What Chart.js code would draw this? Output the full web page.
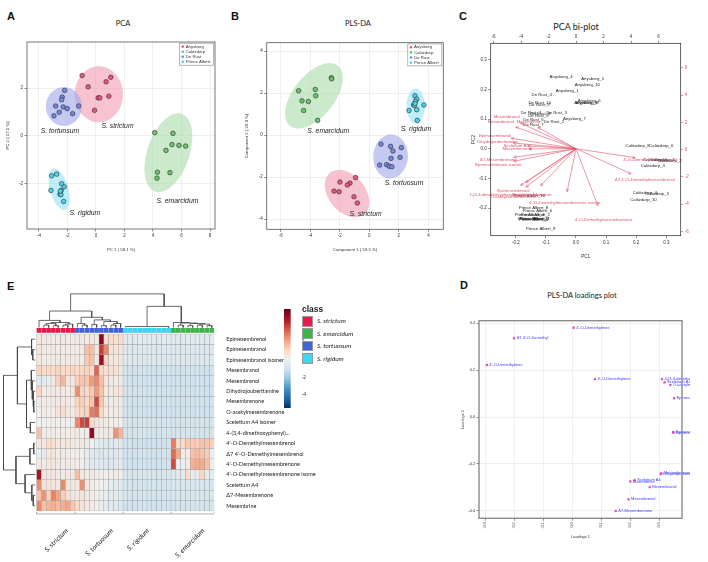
<!DOCTYPE html>
<html>
<head>
<meta charset="utf-8">
<title>Sceletium alkaloid profiles</title>
<script src="https://cdn.jsdelivr.net/npm/chart.js@4.4.1/dist/chart.umd.min.js"></script>
<style>
  html, body { margin: 0; padding: 0; background: #fff; }
  #page { position: relative; width: 708px; height: 562px; overflow: hidden; font-family: "Liberation Sans", Arial, sans-serif; color: #222; }
  #page canvas { position: absolute; }
  .tag { position: absolute; font-weight: bold; font-size: 11px; line-height: 1; color: #111; }
  .ttl { position: absolute; transform: translate(-50%, -50%); white-space: nowrap; line-height: 1; font-family: Lato, "Liberation Sans", sans-serif; color: #222; }
  .key { position: absolute; box-sizing: border-box; width: 11px; height: 10.5px; border: 1px solid #9a9a9a; }
  .keytxt { position: absolute; font-size: 6.5px; font-style: italic; line-height: 1; transform: translateY(-50%); white-space: nowrap; font-family: Lato, "Liberation Sans", sans-serif; }
</style>
</head>
<body>
<div id="page">
  <div class="tag" style="left:7px;top:11px">A</div>
  <div class="tag" style="left:231px;top:11px">B</div>
  <div class="tag" style="left:459px;top:11px">C</div>
  <div class="tag" style="left:460px;top:280px">D</div>
  <div class="tag" style="left:7px;top:281px">E</div>
  <div class="ttl" style="left:123px;top:24px;font-size:7.5px">PCA</div>
  <div class="ttl" style="left:358px;top:24px;font-size:7.5px">PLS-DA</div>
  <div class="ttl" style="left:576px;top:26px;font-size:9px">PCA bi-plot</div>
  <div class="ttl" style="left:582px;top:296px;font-size:7.5px">PLS-DA loadings plot</div>
  <canvas id="cA"></canvas>
  <canvas id="cB"></canvas>
  <canvas id="cC"></canvas>
  <canvas id="cD"></canvas>
  <canvas id="cE"></canvas>
  <canvas id="cG"></canvas>
  <div id="classKey"></div>
</div>
<script>
/* ---------- sites (A, B) ---------- */
const sites = ['Anysberg', 'Calitzdorp', 'De Rust', 'Prince Albert'];
const siteColors = ['#e9557f', '#6cc46c', '#7487e0', '#4ed2ec'];
const siteShade = ['rgba(243,158,180,0.62)', 'rgba(168,220,168,0.6)', 'rgba(160,166,234,0.6)', 'rgba(150,228,247,0.62)'];
const species = ['S. tortuosum', 'S. strictum', 'S. emarcidum', 'S. rigidum'];

// A: PCA scores [PC1, PC2]
const pcaAnysberg = [[-0.97, 2.52], [-0.55, 2.05], [0.71, 2.26], [1.04, 2.45], [0.15, 1.59], [0.27, 1.59], [0.90, 1.66], [-0.10, 1.07]];
const pcaCalitzdorp = [[4.12, 0.14], [5.40, 0.11], [5.33, -0.36], [5.82, -0.39], [6.29, -0.42], [4.91, -0.60], [4.31, -1.51], [4.28, -1.76], [5.19, -1.53]];
const pcaDeRust = [[-2.20, 1.90], [-2.37, 1.62], [-2.41, 1.51], [-2.83, 1.25], [-2.30, 1.21], [-2.02, 1.14], [-1.22, 1.25], [-1.64, 0.93], [-2.58, 0.99], [-2.95, 0.84]];
const pcaPrinceAlbert = [[-3.11, -1.66], [-2.76, -1.59], [-2.41, -1.99], [-2.23, -2.12], [-3.16, -2.27], [-2.44, -2.27], [-2.53, -2.43], [-2.46, -2.45], [-2.27, -2.73], [-2.50, -2.30]];
// confidence ellipses: centre, first half-axis, second half-axis
const pcaEllipses = [[0.20, 1.74, 1.69, 0, 0, 1.17], [5.08, -0.70, 0.93, 1.62, 1.40, -0.28], [-2.25, 1.23, 1.26, 0, 0, 0.81], [-2.58, -2.22, -0.42, 0.86, 0.61, 0.11]];
const pcaSpeciesAt = [[-2.53, 0.21], [1.51, 0.42], [5.71, -2.72], [-0.78, -3.23]];
const pcaXTicks = [-4, -2, 0, 2, 4, 6, 8];
const pcaYTicks = [-2, 0, 2];

// B: PLS-DA scores [comp 1, comp 2]
const plsAnysberg = [[-0.93, -2.03], [-1.99, -2.24], [-1.31, -2.29], [-1.49, -2.38], [-2.39, -2.67], [-2.05, -2.70], [-1.04, -2.94], [-0.81, -3.24]];
const plsCalitzdorp = [[-2.57, 2.73], [-2.55, 2.68], [-4.79, 2.11], [-3.66, 2.17], [-3.63, 1.87], [-4.56, 1.63], [-4.13, 1.60], [-4.45, 1.17], [-3.50, 0.70]];
const plsDeRust = [[0.79, -0.43], [1.44, -0.54], [1.60, -0.76], [2.17, -0.60], [2.08, -1.06], [1.47, -1.11], [0.70, -1.43], [1.17, -1.41], [1.35, -1.49], [1.53, -1.51]];
const plsPrinceAlbert = [[3.09, 1.87], [3.21, 1.71], [3.12, 1.60], [3.00, 1.44], [3.05, 1.41], [2.69, 1.17], [3.21, 1.21], [3.70, 1.43], [3.25, 0.70], [3.10, 1.50]];
const plsEllipses = [[-1.51, -2.79, 1.17, -0.98, 0.95, 0.56], [-3.75, 1.87, 1.63, 1.43, 1.08, -0.62], [1.44, -1.02, 1.17, 0.12, -0.10, 1.04], [3.14, 1.38, 0.62, 0, 0, 0.83]];
const plsSpeciesAt = [[2.35, -2.27], [-0.25, -3.78], [-2.78, 0.19], [3.16, 0.27]];
const plsXTicks = [-6, -4, -2, 0, 2, 4];
const plsYTicks = [-4, -2, 0, 2, 4];

/* ---------- C: biplot ---------- */
const biplotSamples = ['Anysberg_4', 'Anysberg_5', 'Anysberg_10', 'Anysberg_1', 'Anysberg_6', 'Anysberg_8', 'Anysberg_3', 'Anysberg_7',
  'De Rust_4', 'De Rust_10', 'De Rust_9', 'De Rust_1', 'De Rust_3', 'De Rust_5', 'De Rust_8', 'De Rust_6', 'De Rust_2', 'De Rust_7',
  'Calitzdorp_8', 'Calitzdorp_6', 'Calitzdorp_1', 'Calitzdorp_2', 'Calitzdorp_7', 'Calitzdorp_3', 'Calitzdorp_4', 'Calitzdorp_5', 'Calitzdorp_10',
  'Prince Albert_8', 'Prince Albert_6', 'Prince Albert_4', 'Prince Albert_1', 'Prince Albert_2', 'Prince Albert_3', 'Prince Albert_7', 'Prince Albert_5', 'Prince Albert_9', 'Prince Albert_10'];
const biplotScore1 = [-1.09, 1.21, 0.82, -0.65, 0.95, 0.80, 0.70, -0.12,
  -2.50, -2.64, -2.67, -3.27, -1.41, -2.74, -2.60, -3.10, -1.60, -3.10,
  4.48, 6.20, 5.75, 6.80, 6.30, 5.58, 5.00, 5.90, 4.90,
  -3.10, -2.81, -3.40, -2.95, -3.15, -3.05, -3.00, -3.10, -2.57, -3.40];
const biplotScore2 = [5.31, 5.16, 4.77, 4.35, 3.55, 3.45, 3.42, 2.27,
  4.01, 3.42, 3.27, 2.71, 2.71, 2.49, 2.60, 2.18, 2.05, 1.83,
  0.29, 0.29, -0.76, -0.81, -0.78, -1.20, -3.13, -3.22, -3.69,
  -4.23, -4.47, -4.79, -4.79, -5.06, -5.10, -5.06, -5.12, -5.77, -3.40];
const biplotVars = ['Mesembranol', 'Mesembrenol', 'Mesembrine', 'Epimesembranol', 'Dihydrojoubertiamine', 'Sceletium A4', 'Mesembrenone',
  'Δ7-Mesembrenone', 'Epimesembranol isomer', 'Epimesembrenol', '4-(3,4-dimethoxyphenyl)cyclohexanone', 'O-acetylmesembrenone',
  'Sceletium A4 isomer', "4'-O-Demethylmesembrenone isomer", "4'-O-Demethylmesembrenone", "4'-O-Demethylmesembrenol", "Δ7 4'-O-Demethylmesembrenol"];
const biplotPC1 = [-0.230, -0.250, -0.158, -0.269, -0.261, -0.199, -0.195, -0.258, -0.258, -0.208, -0.230, -0.208, -0.147, -0.037, 0.091, 0.246, 0.229];
const biplotPC2 = [0.108, 0.091, 0.090, 0.044, 0.024, 0.011, -0.001, -0.036, -0.053, -0.142, -0.154, -0.162, -0.156, -0.181, -0.240, -0.038, -0.106];
const biplotLoadTicks = [-0.2, -0.1, 0, 0.1, 0.2, 0.3];
const biplotScoreTicks = [-6, -4, -2, 0, 2, 4, 6];

/* ---------- D: PLS-DA loadings ---------- */
const loadNames = ["4'-O-Demethylmesembrenol", "Δ7 4'-O-Demethylmesembrenol", "4'-O-Demethylmesembrenone", "4'-O-Demethylmesembrenone isomer",
  '4-(3,4-dimethoxyphenyl)cyclohexanone', 'Sceletium A4 isomer', 'O-acetylmesembrenone', 'Epimesembrenol', 'Epimesembranol', 'Epimesembranol isomer',
  'Dihydrojoubertiamine', 'Mesembrenone', 'Sceletium A4', 'Mesembrine', 'Mesembranol', 'Mesembrenol', 'Δ7-Mesembrenone'];
const loadings1 = [0.005, -0.200, -0.294, 0.078, 0.309, 0.318, 0.338, 0.351, 0.347, 0.349, 0.305, 0.307, 0.215, 0.200, 0.267, 0.194, 0.150];
const loadings2 = [0.381, 0.336, 0.222, 0.162, 0.162, 0.148, 0.137, 0.080, -0.065, -0.066, -0.243, -0.240, -0.269, -0.275, -0.299, -0.351, -0.401];
const loadXTicks = [-0.3, -0.2, -0.1, 0, 0.1, 0.2, 0.3];
const loadYTicks = [-0.4, -0.2, 0, 0.2, 0.4];

/* ---------- E: heatmap ---------- */
const groups = ['S. strictum', 'S. tortuosum', 'S. rigidum', 'S. emarcidum'];
const groupSizes = [8, 10, 10, 9];
const groupColors = ['#e8194b', '#4262d8', '#3fd6f3', '#3bb44a'];
const legendOrder = [0, 3, 1, 2];
const groupLabelAt = [6.3, 15.7, 23.2, 34.7];
const heatRows = ['Epimesembrenol', 'Epimesembranol', 'Epimesembranol isomer', 'Mesembranol', 'Mesembrenol', 'Dihydrojoubertiamine',
  'Mesembrenone', 'O-acetylmesembrenone', 'Sceletium A4 isomer', '4-(3,4-dimethoxyphenyl)...', "4'-O-Demethylmesembrenol",
  "Δ7 4'-O-Demethylmesembrenol", "4'-O-Demethylmesembrenone", "4'-O-Demethylmesembrenone isome", 'Sceletium A4', 'Δ7-Mesembrenone', 'Mesembrine'];
// columns: 8 strictum | 10 tortuosum | 10 rigidum | 9 emarcidum
const heatValues = [
  [0.4, 0.3, 0.3, 0.2, 0.2, 0.3, 0.2, 0.2, 0.2, 0.3, 0.2, 0.4, 0.3, 5.2, 0.8, 0.9, 0.8, 0.9, -0.5, -0.5, -0.5, -0.5, -0.5, -0.5, -0.5, -0.5, -0.5, -0.5, -0.5, -0.5, -0.5, -0.5, -0.5, -0.5, -0.5, -0.5, -0.5],
  [0.5, 0.3, 0.2, 0.3, 0.2, 0.3, 0.2, 0.3, 0.2, 0.3, 1.6, 1.6, 0.4, 3.8, 2.6, 0.6, 0.5, 0.6, -0.6, -0.6, -0.6, -0.6, -0.6, -0.6, -0.6, -0.6, -0.6, -0.6, -0.6, -0.6, -0.6, -0.6, -0.6, -0.6, -0.6, -0.6, -0.6],
  [0.4, 0.2, 0.3, 0.2, 0.3, 0.2, 0.3, 0.3, 0.3, 0.2, 1.4, 1.6, 0.3, 4.8, 1.2, 0.4, 0.4, 0.5, -0.6, -0.6, -0.6, -0.6, -0.6, -0.6, -0.6, -0.6, -0.6, -0.6, -0.6, -0.6, -0.6, -0.6, -0.6, -0.6, -0.6, -0.6, -0.6],
  [1.2, 1.0, 1.1, 0.9, 1.2, 1.0, 1.0, 1.2, 1.0, 1.1, 1.2, 1.0, 3.2, 1.0, 0.8, 0.7, 0.6, 0.5, -1.0, -1.0, -1.0, -1.0, -1.0, -1.0, -1.0, -1.0, -1.0, -1.0, -1.0, -1.0, -1.0, -1.0, -1.0, -1.0, -1.0, -1.0, -1.0],
  [-0.6, -0.5, -0.3, 0.3, 1.3, 1.8, 0.6, 0.3, 1.3, 1.5, 1.5, 2.3, 2.6, 1.6, 0.5, 0.3, 0.2, 0.3, -1.0, -1.0, -1.0, -1.0, -1.0, -1.0, -1.0, -1.0, -1.0, -1.0, -1.0, -1.0, -1.0, -1.0, -1.0, -1.0, -1.0, -1.0, -1.0],
  [1.2, 0.2, 0.3, 0.4, 0.3, 0.3, 0.2, 0.5, 2.5, 1.2, 1.0, 1.4, 2.3, 1.5, 0.4, 0.3, 0.5, 0.6, -1.0, -1.0, -1.0, -1.0, -1.0, -1.0, -1.0, -1.0, -1.0, -1.0, -1.0, -1.0, -1.0, -1.0, -1.0, -1.0, -1.0, -1.0, -1.0],
  [0.3, 0.2, 0.2, 0.3, 0.3, 0.4, 0.3, 0.2, 1.2, 1.3, 1.0, 1.5, 3.6, 1.4, 0.3, 0.2, 0.3, 0.3, -1.0, -1.0, -1.0, -1.0, -1.0, -1.0, -1.0, -1.0, -1.0, -1.0, -1.0, -1.0, -1.0, -1.0, -1.0, -1.0, -1.0, -1.0, -1.0],
  [0.1, 0.2, 0.2, 0.1, 0.6, 0.9, 0.4, 0.3, 0.9, 1.1, 1.2, 2.8, 3.0, 1.0, 0.3, 0.2, 0.2, 0.3, -1.0, -1.0, -1.0, -1.0, -1.0, -1.0, -1.0, -1.0, -1.0, -1.0, -1.0, -1.0, -1.0, -1.0, -1.0, -1.0, -1.0, -1.0, -1.0],
  [0.0, 0.1, 0.0, 0.1, 0.0, 0.1, 0.0, 0.2, 2.6, 3.6, 3.8, 0.8, 0.5, 0.3, 0.2, 0.1, 0.2, 0.1, -0.9, -0.9, -0.9, -0.9, -0.9, -0.9, -0.9, -0.9, -0.9, -0.9, -0.9, -0.9, -0.9, -0.9, -0.9, -0.9, -0.9, -0.9, -0.9],
  [1.6, 0.2, 0.1, 0.2, 0.1, 0.2, 0.1, 0.2, 0.3, 0.1, 0.2, 5.0, 0.3, 0.2, 0.3, 0.4, 2.4, 1.8, -0.9, -0.9, -0.9, -0.9, -0.9, -0.9, -0.9, -0.9, -0.9, -0.9, -0.9, -0.9, -0.9, -0.9, -0.9, -0.9, -0.9, -0.9, -0.9],
  [0.3, 0.4, 0.9, 0.8, 0.4, 0.3, 0.6, 0.3, 0.2, 0.3, 0.3, 0.0, -0.3, -0.5, -0.6, -0.6, -0.5, -0.5, -1.0, -1.0, -1.1, -1.1, -1.1, -1.0, -1.0, -1.0, -1.1, -1.0, 2.8, 0.9, 1.0, 1.4, 1.4, 1.3, 1.5, 1.5, 1.3],
  [-0.3, -0.5, 0.4, 0.6, 0.2, 0.3, 0.2, 0.1, 0.1, 0.0, -0.3, -0.5, -0.6, -0.7, -0.6, -0.6, -0.6, -0.5, -1.0, -1.0, -1.0, -1.0, -1.0, -1.0, -1.0, -1.0, -1.0, -1.0, 3.1, 2.0, 0.2, 0.2, 1.6, 1.7, 1.5, 1.3, -0.2],
  [0.3, 0.2, 0.4, 0.5, 0.3, 0.2, 0.3, 0.2, 0.1, 0.0, -0.3, -0.5, -0.6, -0.6, -0.7, -0.6, -0.5, -0.5, -1.0, -1.0, -1.0, -1.0, -1.0, -1.0, -1.0, -1.0, -1.0, -1.0, 3.6, 0.0, -0.1, 0.2, 1.9, 2.0, 2.0, 1.6, 0.2],
  [4.6, 0.4, 0.3, 0.5, 0.3, 0.2, 0.4, 0.3, 1.6, 0.3, 0.2, 0.3, 0.2, 0.1, 0.0, 0.1, 0.2, 0.1, -0.8, -0.8, -0.8, -0.8, -0.8, -0.8, -0.8, -0.8, -0.8, -0.8, -0.6, -0.5, -0.4, 1.0, -0.3, -0.3, 1.1, -0.3, -0.5],
  [2.5, 0.5, 0.6, 0.4, 0.5, 2.6, 0.5, 0.3, 0.3, 2.5, 0.4, 0.2, 0.1, 0.0, -0.2, -0.3, -0.4, -0.4, -0.9, -0.9, -0.9, -0.9, -0.9, -0.9, -0.9, -0.9, -0.9, -0.9, -0.8, -0.8, -0.8, -0.8, -0.8, -0.8, -0.8, -0.8, -0.8],
  [1.5, 2.4, 1.3, 2.7, 2.1, 1.3, 0.8, 0.4, 0.3, 0.5, 0.3, 0.2, 0.1, -0.1, -0.3, -0.4, -0.4, -0.5, -0.9, -0.9, -0.9, -0.9, -0.9, -0.9, -0.9, -0.9, -0.9, -0.9, -0.8, -0.8, -0.8, -0.8, -0.8, -0.8, -0.8, -0.8, -0.8],
  [2.6, 1.6, 1.8, 1.9, 1.7, 1.9, 2.1, 1.5, 1.0, 0.6, 0.3, 0.2, 0.1, -0.2, -0.4, -0.5, -0.5, -0.6, -1.0, -1.0, -1.0, -1.0, -1.0, -1.0, -1.0, -1.0, -1.0, -1.0, -0.9, -0.9, -0.9, -0.9, -0.9, -0.9, -0.9, -0.9, -0.9]
];
// dendrogram links: [left pos, right pos, height, left child height, right child height]
const colLeaf = 17.62;
const colTree = [
  [1.5, 2.5, 17.85, colLeaf, colLeaf], [3.5, 4.5, 17.8, colLeaf, colLeaf], [5.5, 6.5, 17.85, colLeaf, colLeaf],
  [2.0, 4.0, 18.0, 17.85, 17.8], [6.0, 7.5, 17.95, 17.85, colLeaf], [3.0, 6.75, 18.1, 18.0, 17.95], [0.5, 4.875, 18.3, colLeaf, 18.1],
  [9.5, 10.5, 17.85, colLeaf, colLeaf], [8.5, 10, 18.0, colLeaf, 17.85], [11.5, 12.5, 17.9, colLeaf, colLeaf], [13.5, 14.5, 17.8, colLeaf, colLeaf],
  [15.5, 16.5, 17.85, colLeaf, colLeaf], [16, 17.5, 18.0, 17.85, colLeaf], [14, 16.75, 18.2, 17.8, 18.0], [12, 15.375, 18.35, 17.9, 18.2],
  [9.25, 13.69, 18.6, 18.0, 18.35], [2.69, 11.47, 19.2, 18.3, 18.6],
  [18.5, 27.5, 17.72, colLeaf, colLeaf],
  [29.5, 30.5, 17.85, colLeaf, colLeaf], [31.5, 32.5, 17.8, colLeaf, colLeaf], [33.5, 34.5, 17.85, colLeaf, colLeaf], [35.5, 36.5, 17.8, colLeaf, colLeaf],
  [34, 36, 17.95, 17.85, 17.8], [32, 35, 18.0, 17.8, 17.95], [30, 33.5, 18.05, 17.85, 18.0], [28.5, 31.75, 18.1, colLeaf, 18.05],
  [23, 30.13, 19.65, 17.72, 18.1], [7.08, 26.56, 20.85, 19.2, 19.65]
];
const rowLeaf = -0.3;
const rowTree = [
  [1, 2, -0.8, rowLeaf, rowLeaf], [0, 1.5, -1.05, rowLeaf, -0.8], [6, 7, -0.6, rowLeaf, rowLeaf], [5, 6.5, -0.75, rowLeaf, -0.6],
  [4, 5.75, -0.9, rowLeaf, -0.75], [3, 4.875, -1.1, rowLeaf, -0.9], [8, 9, -1.3, rowLeaf, rowLeaf], [3.94, 8.5, -2.1, -1.1, -1.3],
  [0.75, 6.22, -4.0, -1.05, -2.1], [10, 11, -0.6, rowLeaf, rowLeaf], [10.5, 12, -1.4, -0.6, rowLeaf], [15, 16, -0.7, rowLeaf, rowLeaf],
  [14, 15.5, -1.0, rowLeaf, -0.7], [13, 14.75, -2.4, rowLeaf, -1.0], [11.25, 13.875, -4.3, -1.4, -2.4], [3.48, 12.56, -6.9, -4.0, -4.3]
];
const scaleMin = -5.47, scaleMax = 5.7;
const scaleTicks = [-4, -2, 0, 2, 4];
const rdbuStops = [[-5.5, [5, 48, 97]], [-4.4, [33, 102, 172]], [-3.3, [67, 147, 195]], [-2.2, [146, 197, 222]], [-1.1, [206, 226, 238]],
  [0, [240, 240, 240]], [1.1, [252, 216, 196]], [2.2, [242, 160, 128]], [3.3, [214, 96, 77]], [4.4, [178, 24, 43]], [5.7, [103, 0, 31]]];

/* ---------- helpers ---------- */
Chart.defaults.font.family = '"Liberation Sans", Arial, sans-serif';
Chart.defaults.color = '#333';

function rdbu(v) {
  if (v <= rdbuStops[0][0]) return 'rgb(' + rdbuStops[0][1].join(',') + ')';
  for (let k = 1; k < rdbuStops.length; k++) {
    const [v1, c1] = rdbuStops[k], [v0, c0] = rdbuStops[k - 1];
    if (v <= v1) {
      const t = (v - v0) / (v1 - v0);
      return 'rgb(' + c0.map((c, j) => Math.round(c + t * (c1[j] - c))).join(',') + ')';
    }
  }
  return 'rgb(' + rdbuStops[rdbuStops.length - 1][1].join(',') + ')';
}

function place(id, left, top, w, h) {
  const c = document.getElementById(id);
  c.width = w; c.height = h;
  c.style.left = left + 'px'; c.style.top = top + 'px';
  c.style.width = w + 'px'; c.style.height = h + 'px';
  return c.getContext('2d');
}

function linAxis(position, min, max, tickValues, o) {
  o = o || {};
  const horizontal = position === 'top' || position === 'bottom';
  return {
    type: 'linear', position: position, min: min, max: max,
    afterBuildTicks: s => { s.ticks = tickValues.map(v => ({ value: v })); },
    afterFit: s => { if (horizontal) s.height = o.size; else s.width = o.size; },
    grid: {
      drawOnChartArea: !!o.grid, color: o.grid || '#ddd', lineWidth: 0.6,
      drawTicks: true, tickLength: o.tickLength || 2.5, tickColor: o.tickColor || '#444', tickWidth: 0.6
    },
    border: { display: false },
    ticks: {
      autoSkip: false, padding: 1.5, color: o.color || '#333',
      font: { size: o.font || 4.5 },
      minRotation: o.rot || 0, maxRotation: o.rot || 0,
      callback: o.fmt || (v => String(v))
    },
    title: { display: !!o.title, text: o.title || '', color: '#333', font: { size: o.titleSize || 4.3 }, padding: 1 }
  };
}

const oneDecimal = v => v.toFixed(1);

function extrasPlugin(cfg) {
  return {
    id: 'extras',
    beforeDatasetsDraw(chart) {
      const ctx = chart.ctx, xs = chart.scales.x, ys = chart.scales.y;
      (cfg.ellipses || []).forEach((e, k) => {
        ctx.save();
        ctx.beginPath();
        for (let s = 0; s <= 90; s++) {
          const t = s / 90 * Math.PI * 2, c = Math.cos(t), n = Math.sin(t);
          const px = xs.getPixelForValue(e[0] + e[2] * c + e[4] * n);
          const py = ys.getPixelForValue(e[1] + e[3] * c + e[5] * n);
          if (s === 0) ctx.moveTo(px, py); else ctx.lineTo(px, py);
        }
        ctx.closePath();
        ctx.fillStyle = siteShade[k];
        ctx.fill();
        ctx.restore();
      });
    },
    afterDatasetsDraw(chart) {
      const ctx = chart.ctx, a = chart.chartArea;
      chart.data.datasets.forEach((ds, i) => {
        const meta = chart.getDatasetMeta(i);
        if (ds.arrowFraction) {
          const ox = chart.scales[meta.xAxisID].getPixelForValue(0);
          const oy = chart.scales[meta.yAxisID].getPixelForValue(0);
          ctx.save();
          ctx.strokeStyle = ds.textColor; ctx.lineWidth = 0.6;
          meta.data.forEach(el => {
            const tx = ox + ds.arrowFraction * (el.x - ox), ty = oy + ds.arrowFraction * (el.y - oy);
            const ang = Math.atan2(ty - oy, tx - ox);
            ctx.beginPath();
            ctx.moveTo(ox, oy); ctx.lineTo(tx, ty);
            ctx.moveTo(tx - 3 * Math.cos(ang - 0.45), ty - 3 * Math.sin(ang - 0.45));
            ctx.lineTo(tx, ty);
            ctx.lineTo(tx - 3 * Math.cos(ang + 0.45), ty - 3 * Math.sin(ang + 0.45));
            ctx.stroke();
          });
          ctx.restore();
        }
        if (ds.textLabels) {
          ctx.save();
          ctx.font = ds.textFont; ctx.fillStyle = ds.textColor;
          ctx.textAlign = ds.textAlign || 'center'; ctx.textBaseline = 'middle';
          meta.data.forEach((el, j) => ctx.fillText(ds.textLabels[j], el.x + (ds.textDx || 0), el.y));
          ctx.restore();
        }
      });
      if (cfg.legend) {
        const w = 34, h = 22, x0 = a.right - w - 1.5, y0 = a.top + 1.2;
        ctx.save();
        ctx.fillStyle = '#fff'; ctx.fillRect(x0, y0, w, h);
        ctx.strokeStyle = '#888'; ctx.lineWidth = 0.6; ctx.strokeRect(x0, y0, w, h);
        ctx.font = '4.3px "Liberation Sans", Arial, sans-serif'; ctx.textBaseline = 'middle'; ctx.textAlign = 'left';
        sites.forEach((s, k) => {
          const yy = y0 + 3.4 + k * 5.1;
          ctx.beginPath(); ctx.arc(x0 + 3.2, yy, 1.3, 0, Math.PI * 2);
          ctx.fillStyle = siteColors[k]; ctx.fill();
          ctx.fillStyle = '#333'; ctx.fillText(s, x0 + 6.2, yy);
        });
        ctx.restore();
      }
      if (cfg.box) {
        ctx.save();
        ctx.strokeStyle = cfg.box; ctx.lineWidth = cfg.boxWidth || 0.8;
        ctx.strokeRect(a.left, a.top, a.right - a.left, a.bottom - a.top);
        ctx.restore();
      }
    }
  };
}

const baseOptions = layoutPad => ({
  responsive: false, animation: false, events: [],
  layout: { padding: layoutPad },
  plugins: { legend: { display: false }, tooltip: { enabled: false } }
});

/* ---------- A and B: score plots ---------- */
function scoreChart(id, box, sets, ellipses, speciesAt, xr, yr, xTicks, yTicks, xTitle, yTitle) {
  const ctx = place(id, box.left, box.top, box.w, box.h);
  const datasets = sites.map((s, k) => ({
    label: s,
    data: sets[k].map(p => ({ x: p[0], y: p[1] })),
    pointRadius: 2.3, pointBackgroundColor: siteColors[k], pointBorderColor: '#2b2b2b', pointBorderWidth: 0.6
  }));
  datasets.push({
    data: speciesAt.map(p => ({ x: p[0], y: p[1] })), pointRadius: 0,
    textLabels: species, textColor: '#222', textFont: 'italic 6.8px "Liberation Sans", Arial, sans-serif'
  });
  const options = baseOptions(box.pad);
  options.scales = {
    x: linAxis('bottom', xr[0], xr[1], xTicks, { size: box.xh, grid: '#e4e4e4', title: xTitle }),
    y: linAxis('left', yr[0], yr[1], yTicks, { size: box.yw, grid: '#e4e4e4', title: yTitle })
  };
  new Chart(ctx, { type: 'scatter', data: { datasets }, options, plugins: [extrasPlugin({ ellipses, legend: true, box: '#555', boxWidth: 0.8 })] });
}

scoreChart('cA', { left: 4, top: 20, w: 221, h: 233, pad: { top: 22, right: 10 }, yw: 23, xh: 24 },
  [pcaAnysberg, pcaCalitzdorp, pcaDeRust, pcaPrinceAlbert], pcaEllipses, pcaSpeciesAt,
  [-4.84, 8.35], [-3.88, 3.92], pcaXTicks, pcaYTicks, 'PC 1 ( 58.1 %)', 'PC 2 ( 17.1 %)');

scoreChart('cB', { left: 243, top: 20, w: 207, h: 233, pad: { top: 22.7, right: 6.7 }, yw: 23.7, xh: 23.7 },
  [plsAnysberg, plsCalitzdorp, plsDeRust, plsPrinceAlbert], plsEllipses, plsSpeciesAt,
  [-6.95, 5.01], [-4.49, 4.40], plsXTicks, plsYTicks, 'Component 1 ( 53.5 %)', 'Component 2 ( 20.9 %)');

/* ---------- C: biplot ---------- */
(function () {
  const ctx = place('cC', 470, 30, 222, 230);
  const red = '#df536b';
  const options = baseOptions(0);
  options.scales = {
    x: linAxis('bottom', -0.2835, 0.348, biplotLoadTicks, { size: 24.3, fmt: oneDecimal, title: 'PC1', titleSize: 4.6 }),
    y: linAxis('left', -0.293, 0.355, biplotLoadTicks, { size: 20.7, fmt: oneDecimal, title: 'PC2', titleSize: 4.6 }),
    x2: linAxis('top', -6.21, 7.61, biplotScoreTicks, { size: 13.3 }),
    y2: linAxis('right', -6.31, 7.80, biplotScoreTicks, { size: 11.3, color: red, tickColor: red })
  };
  new Chart(ctx, {
    type: 'scatter',
    data: {
      datasets: [
        {
          xAxisID: 'x2', yAxisID: 'y2', pointRadius: 0,
          data: biplotScore1.map((v, i) => ({ x: v, y: biplotScore2[i] })),
          textLabels: biplotSamples, textColor: '#1a1a1a', textFont: '4.3px "Liberation Sans", Arial, sans-serif'
        },
        {
          xAxisID: 'x', yAxisID: 'y', pointRadius: 0,
          data: biplotPC1.map((v, i) => ({ x: v, y: biplotPC2[i] })),
          arrowFraction: 0.8,
          textLabels: biplotVars, textColor: red, textFont: '4.3px "Liberation Sans", Arial, sans-serif'
        }
      ]
    },
    options,
    plugins: [extrasPlugin({ box: '#222', boxWidth: 0.7 })]
  });
})();

/* ---------- D: loadings ---------- */
(function () {
  const ctx = place('cD', 460, 305, 230, 235);
  const options = baseOptions({ top: 15.7, right: 8 });
  options.scales = {
    x: linAxis('bottom', -0.321, 0.378, loadXTicks, { size: 21.7, grid: '#e6e6e6', fmt: oneDecimal, rot: 90, font: 3.8, title: 'Loadings 1', titleSize: 3.8 }),
    y: linAxis('left', -0.432, 0.411, loadYTicks, { size: 19, grid: '#e6e6e6', fmt: oneDecimal, font: 3.8, title: 'Loadings 2', titleSize: 3.8 })
  };
  new Chart(ctx, {
    type: 'scatter',
    data: {
      datasets: [{
        data: loadings1.map((v, i) => ({ x: v, y: loadings2[i] })),
        pointStyle: 'rect', pointRadius: 1.3, pointBackgroundColor: '#d94bb4', pointBorderColor: '#d94bb4', pointBorderWidth: 0.4,
        textLabels: loadNames.map(n => n.slice(0, 16)), textColor: '#3a3aff', textAlign: 'left', textDx: 2.5,
        textFont: '4px "Liberation Sans", Arial, sans-serif'
      }]
    },
    options,
    plugins: [extrasPlugin({ box: '#8a8a8a', boxWidth: 1.4 })]
  });
})();

/* ---------- E: heatmap with dendrograms ---------- */
(function () {
  const ctx = place('cE', 3, 285, 327, 277);
  const sampleGroup = [];
  groupSizes.forEach((n, g) => { for (let k = 0; k < n; k++) sampleGroup.push(g); });
  const groupEdges = [0];
  groupSizes.forEach(n => groupEdges.push(groupEdges[groupEdges.length - 1] + n));

  const cell = { type: 'bar', grouped: false, barPercentage: 1, categoryPercentage: 1, borderSkipped: false };
  const datasets = heatValues.map((row, r) => Object.assign({}, cell, {
    data: row.map((v, i) => ({ x: i + 0.5, y: [16 - r, 17 - r] })),
    backgroundColor: row.map(rdbu), borderColor: '#a4a4a4', borderWidth: 0.5
  }));
  datasets.push(Object.assign({}, cell, {
    data: sampleGroup.map((g, i) => ({ x: i + 0.5, y: [17.1, 17.57] })),
    backgroundColor: sampleGroup.map(g => groupColors[g]), borderColor: '#c8c8c8', borderWidth: 0.4
  }));
  const link = pts => ({ type: 'line', data: pts, borderColor: '#444', borderWidth: 0.8, pointRadius: 0, fill: false, tension: 0 });
  colTree.forEach(m => datasets.push(link([{ x: m[0], y: m[3] }, { x: m[0], y: m[2] }, { x: m[1], y: m[2] }, { x: m[1], y: m[4] }])));
  rowTree.forEach(m => datasets.push(link([{ x: m[3], y: 16.5 - m[0] }, { x: m[2], y: 16.5 - m[0] }, { x: m[2], y: 16.5 - m[1] }, { x: m[4], y: 16.5 - m[1] }])));
  const bracket = pts => Object.assign(link(pts), { borderColor: '#9a9a9a', borderWidth: 0.8 });
  datasets.push(bracket([{ x: 0, y: -0.28 }, { x: groupEdges[groupEdges.length - 1], y: -0.28 }]));
  groupEdges.forEach(e => datasets.push(bracket([{ x: e, y: -0.28 }, { x: e, y: -0.08 }])));

  const options = baseOptions({ top: 6.1, left: 0, right: 0, bottom: 0 });
  options.scales = {
    x: {
      type: 'linear', position: 'bottom', min: -7, max: 37, offset: false,
      afterBuildTicks: s => { s.ticks = groupLabelAt.map(v => ({ value: v })); },
      afterFit: s => { s.height = 46.3; },
      grid: { display: false, offset: false }, border: { display: false },
      ticks: { autoSkip: false, minRotation: 45, maxRotation: 45, padding: 3, color: '#222',
        font: { family: 'Lato, "Liberation Sans", sans-serif', size: 6.8, style: 'italic' }, callback: (v, i) => groups[i] }
    },
    y: {
      type: 'linear', position: 'right', min: -0.45, max: 21,
      afterBuildTicks: s => { s.ticks = heatRows.map((n, r) => ({ value: 16.5 - r })); },
      afterFit: s => { s.width = 115.7; },
      grid: { display: false }, border: { display: false },
      ticks: { autoSkip: false, padding: 4, color: '#222', font: { family: 'Lato, "Liberation Sans", sans-serif', size: 5.5 }, callback: (v, i) => heatRows[i] }
    }
  };
  new Chart(ctx, { type: 'bar', data: { datasets }, options });
})();

/* ---------- E: colour key ---------- */
(function () {
  const ctx = place('cG', 282, 303, 26, 111);
  const options = baseOptions({ top: 6, bottom: 6, left: 2 });
  options.scales = {
    x: { display: false },
    y: {
      type: 'linear', position: 'right', min: scaleMin, max: scaleMax,
      afterBuildTicks: s => { s.ticks = scaleTicks.map(v => ({ value: v })); },
      afterFit: s => { s.width = 17.3; },
      grid: { display: false }, border: { display: false },
      ticks: { padding: 3, color: '#333', font: { size: 5 } }
    }
  };
  new Chart(ctx, {
    type: 'bar',
    data: {
      labels: [''],
      datasets: [{
        data: [[scaleMin, scaleMax]], barPercentage: 1, categoryPercentage: 1, borderWidth: 0,
        backgroundColor: c => {
          const ch = c.chart, ys = ch.scales.y;
          if (!ch.chartArea || !ys) return '#eee';
          const g = ch.ctx.createLinearGradient(0, ys.getPixelForValue(scaleMin), 0, ys.getPixelForValue(scaleMax));
          rdbuStops.forEach(([v, col]) => {
            const t = Math.min(1, Math.max(0, (v - scaleMin) / (scaleMax - scaleMin)));
            g.addColorStop(t, 'rgb(' + col.join(',') + ')');
          });
          return g;
        }
      }]
    },
    options
  });

  const key = document.getElementById('classKey');
  let html = '<div style="position:absolute;left:302px;top:305px;font-weight:bold;font-size:8.5px;line-height:1">class</div>';
  legendOrder.forEach((g, k) => {
    const top = 316 + k * 12.4;
    html += '<div class="key" style="left:301.5px;top:' + top + 'px;background:' + groupColors[g] + '"></div>';
    html += '<div class="keytxt" style="left:317px;top:' + (top + 5.3) + 'px">' + groups[g] + '</div>';
  });
  key.innerHTML = html;
})();
</script>
</body>
</html>
